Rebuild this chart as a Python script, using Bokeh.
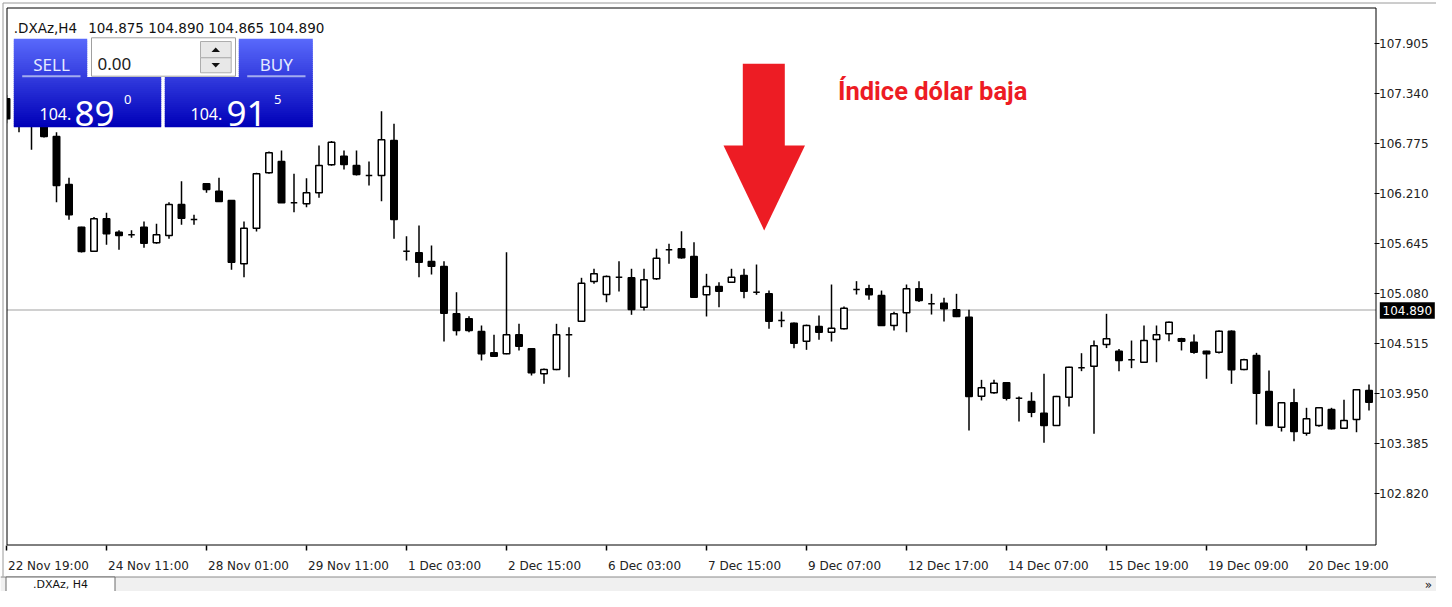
from bokeh.plotting import figure
from bokeh.models import Range1d, FixedTicker, PrintfTickFormatter, LinearAxis, ColumnDataSource
from bokeh.embed import file_html
from bokeh.resources import INLINE
from bokeh.core.properties import value

# ---------------- data ----------------
SYMBOL = ".DXAz,H4"
HEADER_OHLC = ["104.875", "104.890", "104.865", "104.890"]
BID = 104.890
ASK = 104.915
LOT = "0.00"
TAB_NAME = ".DXAz, H4"
ANNOTATION = "Índice dólar baja"

OPEN = [107.277, 107.12, 107.00, 107.05, 106.851, 106.308, 105.826, 105.555, 105.921, 105.769,
        105.74, 105.826, 105.649, 105.732, 106.082, 105.913, 106.316, 106.233, 106.127, 105.412,
        105.814, 106.441, 106.568, 106.101, 106.09, 106.214, 106.531, 106.628, 106.523, 106.41,
        106.410, 106.805, 105.555, 105.536, 105.438, 105.382, 104.847, 104.791, 104.647, 104.406,
        104.395, 104.610, 104.452, 104.169, 104.218, 104.610, 104.764, 105.212, 105.065, 105.261,
        105.254, 104.922, 105.243, 105.570, 105.582, 105.495, 105.062, 105.156, 105.204, 105.280,
        105.091, 105.073, 104.772, 104.74, 104.538, 104.704, 104.639, 104.678, 105.122, 105.13,
        105.054, 104.715, 104.858, 105.13, 104.960, 104.967, 104.892, 104.809, 103.916, 103.955,
        104.068, 103.894, 103.856, 103.724, 103.585, 103.905, 104.237, 104.255, 104.5, 104.425,
        104.327, 104.30, 104.557, 104.621, 104.565, 104.527, 104.425, 104.413, 104.65, 104.218,
        104.376, 103.969, 103.566, 103.842, 103.498, 103.585, 103.766, 103.555, 103.653, 103.98]
HIGH = [107.32, 107.20, 107.10, 107.10, 106.90, 106.384, 105.83, 105.94, 105.988, 105.79,
        105.79, 105.890, 105.864, 106.108, 106.345, 105.966, 106.323, 106.384, 106.13, 105.890,
        106.44, 106.68, 106.692, 106.429, 106.379, 106.749, 106.80, 106.692, 106.692, 106.568,
        107.136, 106.994, 105.724, 105.845, 105.619, 105.44, 105.091, 104.82, 104.715, 104.61,
        105.543, 104.734, 104.46, 104.23, 104.734, 104.696, 105.254, 105.356, 105.28, 105.442,
        105.356, 105.356, 105.582, 105.638, 105.78, 105.656, 105.299, 105.204, 105.356, 105.356,
        105.404, 105.11, 104.873, 104.75, 104.725, 104.828, 105.178, 104.93, 105.216, 105.175,
        105.11, 104.87, 105.178, 105.216, 105.073, 105.028, 105.073, 104.892, 104.101, 104.101,
        104.07, 103.913, 103.961, 104.169, 103.92, 104.25, 104.402, 104.545, 104.847, 104.45,
        104.545, 104.715, 104.715, 104.76, 104.576, 104.613, 104.43, 104.66, 104.66, 104.34,
        104.406, 104.207, 103.85, 104.0, 103.785, 103.79, 103.785, 103.875, 103.995, 104.048]
LOW = [107.00, 106.90, 106.70, 106.84, 106.108, 105.909, 105.54, 105.55, 105.627, 105.570,
       105.706, 105.593, 105.64, 105.695, 105.853, 105.853, 106.214, 106.11, 105.344, 105.261,
       105.777, 106.43, 106.10, 105.995, 106.052, 106.158, 106.52, 106.478, 106.41, 106.297,
       106.119, 105.695, 105.449, 105.261, 105.291, 104.534, 104.602, 104.64, 104.32, 104.36,
       104.39, 104.433, 104.15, 104.056, 104.21, 104.131, 104.76, 105.186, 104.978, 105.099,
       104.836, 104.884, 105.23, 105.412, 105.47, 105.03, 104.817, 104.922, 105.20, 105.023,
       105.062, 104.678, 104.696, 104.459, 104.44, 104.553, 104.534, 104.67, 105.065, 105.005,
       104.71, 104.658, 104.639, 104.98, 104.839, 104.76, 104.81, 103.529, 103.868, 103.943,
       103.868, 103.63, 103.679, 103.39, 103.58, 103.8, 104.199, 103.491, 104.46, 104.199,
       104.233, 104.29, 104.30, 104.538, 104.433, 104.395, 104.113, 104.40, 104.056, 104.21,
       103.596, 103.58, 103.517, 103.408, 103.47, 103.57, 103.54, 103.55, 103.509, 103.755]
CLOSE = [107.050, 107.00, 107.05, 106.85, 106.297, 105.966, 105.551, 105.921, 105.751, 105.732,
         105.74, 105.645, 105.740, 106.082, 105.927, 105.913, 106.252, 106.116, 105.430, 105.814,
         106.429, 106.666, 106.101, 106.101, 106.214, 106.523, 106.786, 106.534, 106.421, 106.41,
         106.813, 105.913, 105.555, 105.430, 105.385, 104.854, 104.658, 104.658, 104.395, 104.368,
         104.610, 104.481, 104.181, 104.218, 104.610, 104.610, 105.193, 105.299, 105.269, 105.261,
         104.896, 105.231, 105.475, 105.570, 105.48, 105.035, 105.156, 105.103, 105.261, 105.103,
         105.091, 104.764, 104.772, 104.515, 104.715, 104.639, 104.684, 104.91, 105.122, 105.062,
         104.715, 104.847, 105.13, 104.997, 104.960, 104.904, 104.817, 103.913, 104.011, 104.063,
         103.894, 103.894, 103.735, 103.585, 103.913, 104.244, 104.237, 104.485, 104.565, 104.32,
         104.327, 104.545, 104.61, 104.752, 104.538, 104.413, 104.395, 104.65, 104.214, 104.327,
         103.95, 103.585, 103.842, 103.517, 103.661, 103.785, 103.548, 103.642, 103.988, 103.848]

LABEL_BARS = [0, 8, 16, 24, 32, 40, 48, 56, 64, 72, 80, 88, 96, 104]
TIME_LABELS = ["22 Nov 19:00", "24 Nov 11:00", "28 Nov 01:00", "29 Nov 11:00", "1 Dec 03:00",
               "2 Dec 15:00", "6 Dec 03:00", "7 Dec 15:00", "9 Dec 07:00", "12 Dec 17:00",
               "14 Dec 07:00", "15 Dec 19:00", "19 Dec 09:00", "20 Dec 19:00"]
PRICE_TICKS = [102.820, 103.385, 103.950, 104.515, 105.080, 105.645, 106.210, 106.775, 107.340, 107.905]

# ---------------- geometry (canvas pixels -> data) ----------------
BAR_PX = 12.5
BAR0_PX = 6.0
REF_PRICE = 104.515
REF_PY = 342.7
PX_PER_UNIT = 88.5
W, H = 1436, 591
FR_L, FR_R, FR_T, FR_B = 6.5, 1375.5, 7.5, 544.5   # chart window frame


def X(px):
    return (px - BAR0_PX) / BAR_PX


def Y(py):
    return REF_PRICE + (REF_PY - py) / PX_PER_UNIT


p = figure(width=W, height=H, x_range=Range1d(X(0), X(W)), y_range=Range1d(Y(H), Y(0)),
           output_backend="svg", toolbar_location=None, x_axis_location=None, y_axis_location=None,
           min_border=0, background_fill_color="white", border_fill_color="white")
p.outline_line_color = None
p.grid.visible = False

# bid line (behind candles)
p.segment(x0=[X(FR_L)], y0=[BID], x1=[X(FR_R)], y1=[BID], line_color="#c0c0c0", line_width=1.5)

# candles
idx = list(range(len(OPEN)))
src = ColumnDataSource(dict(
    x=idx, o=OPEN, h=HIGH, l=LOW, c=CLOSE,
    top=[max(o, c) for o, c in zip(OPEN, CLOSE)],
    bot=[min(o, c) for o, c in zip(OPEN, CLOSE)],
    fill=["white" if c >= o else "black" for o, c in zip(OPEN, CLOSE)],
))
p.segment(x0="x", y0="l", x1="x", y1="h", source=src, line_color="black", line_width=1.5)
p.vbar(x="x", width=0.52, top="top", bottom="bot", source=src, fill_color="fill",
       line_color="black", line_width=1.5)

# white margin left of the chart window (clips the first candle)
p.quad(left=[X(0)], right=[X(FR_L)], top=[Y(0)], bottom=[Y(576)], fill_color="white", line_color=None)

# chart window frame and outer window border
p.quad(left=[X(FR_L)], right=[X(FR_R)], top=[Y(FR_T)], bottom=[Y(FR_B)], fill_color=None,
       line_color="black", line_width=1)
p.segment(x0=[X(2.5), X(2.5)], y0=[Y(2.5), Y(2.5)], x1=[X(2.5), X(W)], y1=[Y(576), Y(2.5)],
          line_color="#9a9a9a", line_width=1)

# price axis (library axis fixed on the frame's right edge)
yax = LinearAxis(fixed_location=X(FR_R), ticker=FixedTicker(ticks=PRICE_TICKS),
                 formatter=PrintfTickFormatter(format="%.3f"))
yax.axis_line_color = None
yax.major_tick_in = 2
yax.major_tick_out = 3
yax.minor_tick_line_color = None
yax.major_tick_line_color = "black"
yax.major_label_standoff = 0
yax.major_label_text_font = "DejaVu Sans"
yax.major_label_text_font_size = "12px"
yax.major_label_text_color = "#222222"
p.add_layout(yax, "right")

# time axis: tick marks from library axis, labels left-aligned at the ticks
xax = LinearAxis(fixed_location=Y(FR_B), ticker=FixedTicker(ticks=LABEL_BARS))
xax.axis_line_color = None
xax.major_tick_in = 0
xax.major_tick_out = 5
xax.major_tick_line_width = 1.5
xax.major_tick_line_color = "black"
xax.minor_tick_line_color = None
xax.major_label_overrides = {b: "" for b in LABEL_BARS}
p.add_layout(xax, "below")

p.text(x=LABEL_BARS, y=[Y(565)] * len(LABEL_BARS), text=TIME_LABELS, text_align="left",
       text_baseline="alphabetic", x_offset=1.5, text_font=value("DejaVu Sans"),
       text_font_size="12px", text_color="#222222")

# price tag on axis
p.quad(left=[X(1379.3)], right=[X(1434.3)], top=[Y(301.7)], bottom=[Y(318.3)], fill_color="black",
       line_color=None)
p.text(x=[X(1382)], y=[BID], text=[f"{BID:.3f}"], text_align="left", text_baseline="middle",
       text_font=value("DejaVu Sans"), text_font_size="12px", text_color="white")

# header text
p.text(x=[X(13.3)], y=[Y(27.3)], text=[SYMBOL + "\u2002 " + " ".join(HEADER_OHLC)],
       text_font=value("DejaVu Sans"), text_font_size="13.5px", text_color="#111111",
       text_align="left", text_baseline="alphabetic")

# ---------------- one-click trading panel ----------------
c0 = (0x5a, 0x6a, 0xfc)
c1 = (0x00, 0x00, 0xb8)
y_top, y_mid, y_bot = 38.3, 78.3, 126.7
n = 44
ql, qr, qt, qb, qc = [], [], [], [], []
for i in range(n):
    t0 = y_top + (y_bot - y_top) * i / n
    t1 = y_top + (y_bot - y_top) * (i + 1) / n
    f = (i + 0.5) / n
    col = "#%02x%02x%02x" % tuple(int(a + (b - a) * f) for a, b in zip(c0, c1))
    if t1 <= y_mid + 0.01:
        boxes = [(13.3, 86.7), (238.3, 312.3)]
        t1e = min(t1 + 1.0, y_mid)
    else:
        boxes = [(13.3, 160.7), (164.3, 312.3)]
        t1e = min(t1 + 1.0, y_bot)
    for (a, b) in boxes:
        ql.append(X(a)); qr.append(X(b)); qt.append(Y(t0)); qb.append(Y(t1e)); qc.append(col)
p.quad(left=ql, right=qr, top=qt, bottom=qb, fill_color=qc, line_color=None)

# lot box + spinner
p.quad(left=[X(91)], right=[X(235)], top=[Y(37.3)], bottom=[Y(75.7)], fill_color="white",
       line_color="#a0a0a0", line_width=1)
p.quad(left=[X(200), X(200)], right=[X(230.7), X(230.7)], top=[Y(41), Y(57.3)], bottom=[Y(57.3), Y(72.3)],
       fill_color="#e8e8e8", line_color="#adadad", line_width=1)
p.patches(xs=[[X(211), X(219.5), X(215.2)], [X(211), X(219.5), X(215.2)]],
          ys=[[Y(51.5), Y(51.5), Y(47)], [Y(62.5), Y(62.5), Y(67)]],
          fill_color="#111111", line_color=None)

# underlines
p.segment(x0=[X(21.7), X(246.7)], y0=[Y(75.7), Y(75.7)], x1=[X(80), X(305)], y1=[Y(75.7), Y(75.7)],
          line_color="#a3acef", line_width=2)

# button texts
p.text(x=[X(51), X(275.7)], y=[Y(64), Y(64)], text=["SELL", "BUY"], text_align="center",
       text_baseline="alphabetic", text_font=value("Noto Sans"), text_font_size="17px", text_color="#e4eaff")
p.text(x=[X(97)], y=[Y(63.3)], text=[LOT], text_align="left", text_baseline="alphabetic",
       text_font=value("Noto Sans"), text_font_size="17px", text_color="#202020")

bid_s, ask_s = f"{BID:.3f}", f"{ASK:.3f}"
p.text(x=[X(39), X(190)], y=[Y(113.3), Y(113.3)], text=[bid_s[:4], ask_s[:4]], text_align="left",
       text_baseline="alphabetic", text_font=value("Noto Sans"), text_font_size="16px", text_color="white")
p.text(x=[X(74), X(226)], y=[Y(113.3), Y(113.3)], text=[bid_s[4:6], ask_s[4:6]], text_align="left",
       text_baseline="alphabetic", text_font=value("Noto Sans"), text_font_size="35px", text_color="white")
p.text(x=[X(123.5), X(273.5)], y=[Y(99), Y(99)], text=[bid_s[6:], ask_s[6:]], text_align="left",
       text_baseline="alphabetic", text_font=value("Noto Sans"), text_font_size="13px", text_color="white")

# ---------------- red arrow and caption ----------------
RED = "#ed1c24"
p.quad(left=[X(742.3)], right=[X(784.3)], top=[Y(63.3)], bottom=[Y(146)], fill_color=RED, line_color=None)
p.patch(x=[X(723), X(804.5), X(763.7)], y=[Y(145), Y(145), Y(230)], fill_color=RED, line_color=None)
p.text(x=[X(837.5)], y=[Y(90)], text=[ANNOTATION], text_align="left", text_baseline="alphabetic",
       text_font=value("Roboto"), text_font_style="bold", text_font_size="25.5px", text_color=RED)

# ---------------- bottom tab bar ----------------
p.quad(left=[X(0)], right=[X(W)], top=[Y(576.5)], bottom=[Y(H)], fill_color="#f0f0f0", line_color=None)
p.segment(x0=[X(0)], y0=[Y(576.5)], x1=[X(W)], y1=[Y(576.5)], line_color="#8a8a8a", line_width=1)
p.quad(left=[X(5.5)], right=[X(114.5)], top=[Y(576.5)], bottom=[Y(H + 5)], fill_color="white",
       line_color="#6a6a6a", line_width=1)
p.text(x=[X(60)], y=[Y(584)], text=[TAB_NAME], text_align="center", text_baseline="middle",
       text_font=value("DejaVu Sans"), text_font_size="11px", text_color="#111111")
p.text(x=[X(1428)], y=[Y(584)], text=["»"], text_align="center", text_baseline="middle",
       text_font=value("DejaVu Sans"), text_font_size="12px", text_color="#222222")

open("out.html", "w").write(file_html(p, INLINE))
